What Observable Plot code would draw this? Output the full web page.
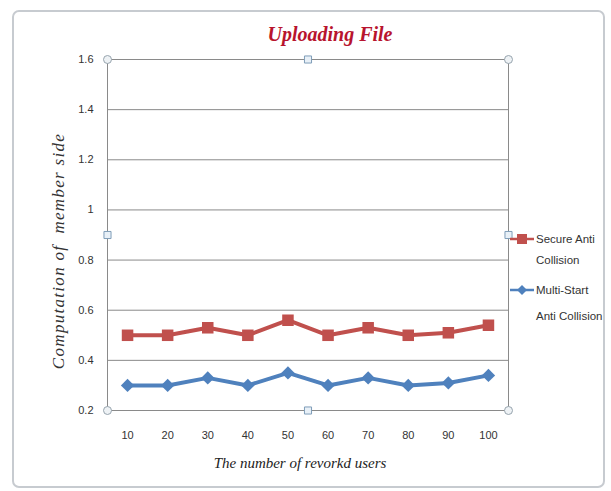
<!DOCTYPE html>
<html>
<head>
<meta charset="utf-8">
<script src="https://cdn.jsdelivr.net/npm/d3@7"></script>
<script src="https://cdn.jsdelivr.net/npm/@observablehq/plot@0.6"></script>
<style>
  body { margin: 0; background: #fff; }
  #chart { position: relative; width: 611px; height: 491px; overflow: hidden; background: #fff; }
  #border { position: absolute; left: 12px; top: 10px; width: 593px; height: 478px;
            border: 2px solid #c7cbd0; border-radius: 7px; box-sizing: border-box; }
  #title { position: absolute; left: 230px; width: 200px; top: 23px; text-align: center;
           font: italic bold 20px "Liberation Serif", "DejaVu Serif", serif; color: #b8142e; }
  #plot { position: absolute; left: 0; top: 0; }
  #plot svg text { fill: #333; }
  .legend { position: absolute; left: 509px; font: 11.5px "Liberation Sans", Arial, sans-serif; color: #333; }
  .legend .row { position: absolute; left: 0; width: 100px; }
  .legend svg { position: absolute; left: 0; top: 0; }
  .legend span { position: absolute; left: 27px; line-height: 22px; white-space: nowrap; }
</style>
</head>
<body>
<div id="chart">
  <div id="border"></div>
  <div id="plot"></div>
  <div id="title">Uploading File</div>
  <div class="legend" id="legend"></div>
</div>
<script>
// Number of users on the x axis
const users = [10, 20, 30, 40, 50, 60, 70, 80, 90, 100];
// Computation cost per scheme
const secureAntiCollision = [0.5, 0.5, 0.53, 0.5, 0.56, 0.5, 0.53, 0.5, 0.51, 0.54];
const multiStartAntiCollision = [0.3, 0.3, 0.33, 0.3, 0.35, 0.3, 0.33, 0.3, 0.31, 0.34];
// Axis ticks
const yTicks = [0.2, 0.4, 0.6, 0.8, 1, 1.2, 1.4, 1.6];
const yTickLabels = ["0.2", "0.4", "0.6", "0.8", "1", "1.2", "1.4", "1.6"];
const seriesNames = ["Secure Anti Collision", "Multi-Start Anti Collision"];
const seriesColors = ["#c0504d", "#4f81bd"];

const xDomain = [5, 105];
const yDomain = [0.2, 1.6];

const rows = [];
users.forEach((u, i) => {
  rows.push({ users: u, value: secureAntiCollision[i], series: seriesNames[0] });
  rows.push({ users: u, value: multiStartAntiCollision[i], series: seriesNames[1] });
});

// selection handles on the plot frame: corners and edge midpoints
const xMid = (xDomain[0] + xDomain[1]) / 2;
const yMid = (yDomain[0] + yDomain[1]) / 2;
const cornerHandles = [
  { x: xDomain[0], y: yDomain[0] }, { x: xDomain[1], y: yDomain[0] },
  { x: xDomain[0], y: yDomain[1] }, { x: xDomain[1], y: yDomain[1] }
];
const edgeHandles = [
  { x: xMid, y: yDomain[0] }, { x: xMid, y: yDomain[1] },
  { x: xDomain[0], y: yMid }, { x: xDomain[1], y: yMid }
];

const plot = Plot.plot({
  width: 611,
  height: 491,
  marginLeft: 107,
  marginRight: 103,
  marginTop: 59,
  marginBottom: 81,
  style: { background: "transparent", fontFamily: "'Liberation Sans', Arial, sans-serif", fontSize: "11px", overflow: "visible" },
  x: { domain: xDomain, ticks: users, tickFormat: d => String(d), tickSize: 0, tickPadding: 21,
       label: "The number of revorkd users", labelAnchor: "center", labelArrow: "none", labelOffset: 57 },
  y: { domain: yDomain, ticks: yTicks, tickFormat: (d, i) => yTickLabels[yTicks.indexOf(d)], tickSize: 0, tickPadding: 14,
       label: "Computation of  member side", labelAnchor: "center", labelArrow: "none", labelOffset: 56 },
  color: { domain: seriesNames, range: seriesColors },
  marks: [
    Plot.ruleY(yTicks, { stroke: "#8a8a8a", strokeWidth: 1 }),
    Plot.ruleX(xDomain, { stroke: "#8a8a8a", strokeWidth: 1 }),
    Plot.lineY(rows, { x: "users", y: "value", z: "series", stroke: "series", strokeWidth: 4 }),
    Plot.dot(rows.filter(d => d.series === seriesNames[0]), { x: "users", y: "value", symbol: "square", r: 6.5, fill: seriesColors[0] }),
    Plot.dot(rows.filter(d => d.series === seriesNames[1]), { x: "users", y: "value", symbol: "diamond2", r: 6, fill: seriesColors[1] }),
    Plot.dot(cornerHandles, { x: "x", y: "y", r: 4, fill: "#eef2f5", stroke: "#97a4ae", strokeWidth: 1 }),
    Plot.dot(edgeHandles, { x: "x", y: "y", symbol: "square", r: 4, fill: "#e8f0f7", stroke: "#7f9db8", strokeWidth: 1 })
  ]
});
document.getElementById("plot").appendChild(plot);

// axis label styling
plot.querySelectorAll('[aria-label="x-axis label"] text').forEach(t => {
  t.style.font = 'italic 15px "Liberation Serif", "DejaVu Serif", serif';
  t.style.fill = "#222";
  t.setAttribute("dx", "-8");
});
plot.querySelectorAll('[aria-label="y-axis label"] text').forEach(t => {
  t.style.font = 'italic 17px "Liberation Serif", "DejaVu Serif", serif';
  t.style.letterSpacing = "1.3px";
  t.style.fill = "#333";
  t.setAttribute("dx", "-16");
});

// legend
const legend = document.getElementById("legend");
const legendTop = [228, 279];
seriesNames.forEach((name, i) => {
  const row = document.createElement("div");
  row.className = "row";
  row.style.top = legendTop[i] + "px";
  const sym = i === 0
    ? `<rect x="8" y="6" width="10" height="10" fill="${seriesColors[i]}"/>`
    : `<path d="M13,6 L18,11 L13,16 L8,11 Z" fill="${seriesColors[i]}"/>`;
  const words = i === 0 ? ["Secure Anti", "Collision"] : ["Multi-Start", "Anti Collision"];
  row.innerHTML = `<svg width="26" height="22"><line x1="1" x2="25" y1="11" y2="11" stroke="${seriesColors[i]}" stroke-width="2.5"/>${sym}</svg>` +
    `<span style="top:0">${words[0]}</span><span style="top:${i === 0 ? 21 : 26}px">${words[1]}</span>`;
  legend.appendChild(row);
});
</script>
</body>
</html>
